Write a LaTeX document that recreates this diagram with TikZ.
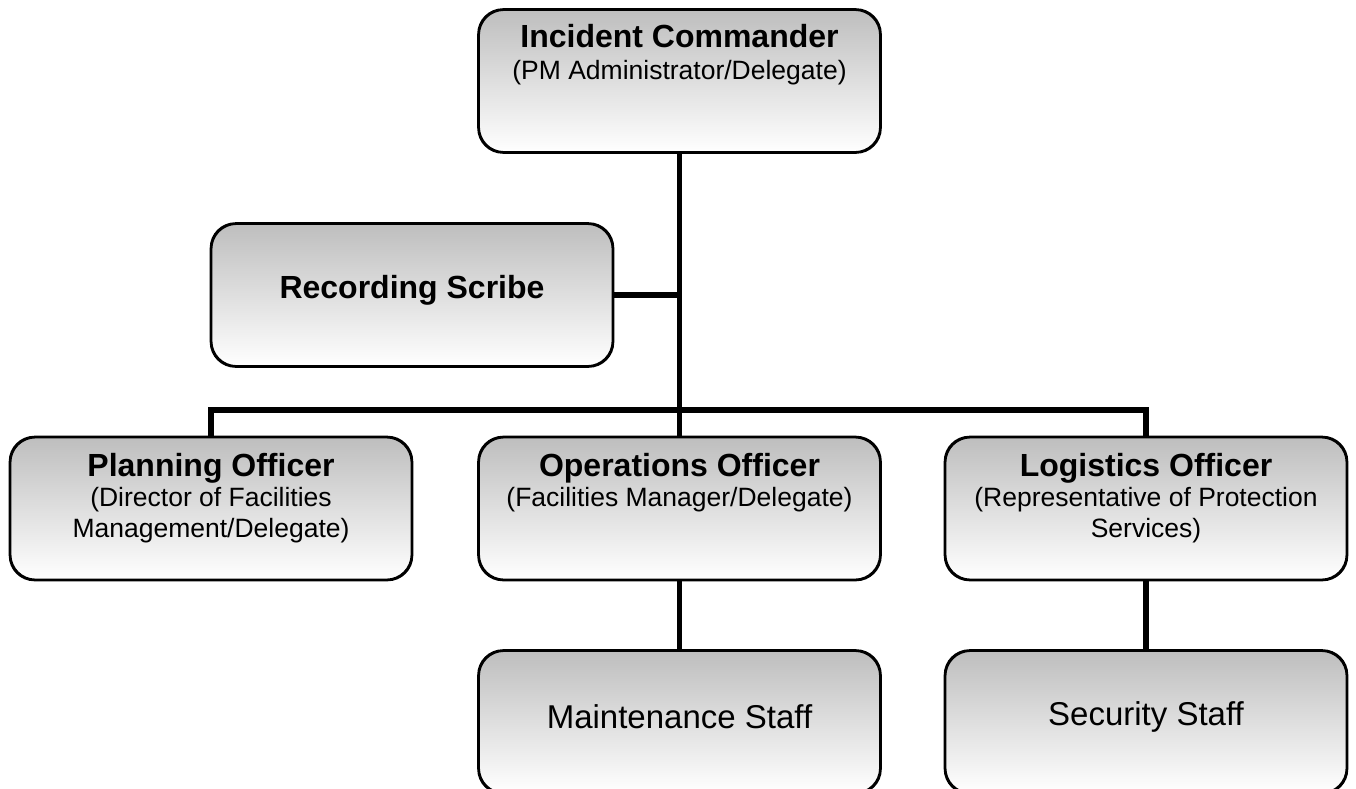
\documentclass[tikz,border=0pt]{standalone}
\usepackage{fontspec}
\setmainfont{Liberation Sans}
\definecolor{boxtop}{RGB}{190,190,190}
\begin{document}
\begin{tikzpicture}[x=1pt,y=-1pt,
  orgbox/.style={draw=black, line width=1.8pt, rounded corners=25pt,
    top color=boxtop, bottom color=white, minimum width=401pt, minimum height=142pt,
    inner sep=0pt},
  conn/.style={line width=5.5pt},
  ttl/.style={font=\fontsize{32}{32}\selectfont\bfseries, anchor=base, inner sep=0pt},
  sub/.style={font=\fontsize{26.5}{30}\selectfont, anchor=base, inner sep=0pt},
  big/.style={font=\fontsize{33}{33}\selectfont, anchor=base, inner sep=0pt}]
\useasboundingbox (0,0) rectangle (1356,788);
\coordinate (bus) at (679.5,410);
% boxes
\node[orgbox] (IC) at (679.5,81) {};
\node[orgbox] (RS) at (412,295) {};
\node[orgbox] (PO) at (211,508.5) {};
\node[orgbox] (OO) at (679.5,508.5) {};
\node[orgbox] (LO) at (1146,508.5) {};
\node[orgbox] (MS) at (679.5,722) {};
\node[orgbox] (SS) at (1146,722) {};
% connectors
\draw[conn] (IC.south) -- (OO.north);
\draw[conn] (RS.east) -- (RS.east -| IC.south);
\draw[conn] (PO.north) |- (bus) -| (LO.north);
\draw[conn] (OO.south) -- (MS.north);
\draw[conn] (LO.south) -- (SS.north);
% redraw box outlines over connector ends
\foreach \n in {IC,RS,PO,OO,LO,MS,SS}{
  \draw[line width=1.8pt, rounded corners=25pt] (\n.north west) rectangle (\n.south east);
}
% texts
\node[ttl] (ICt) at (679.5,47) {Incident Commander};
\node[sub] (ICs) at (679.5,79) {(PM Administrator/Delegate)};
\node[ttl] (RSt) at (412,298) {Recording Scribe};
\node[ttl] (POt) at (211,476) {Planning Officer};
\node[sub] (POs1) at (211,506) {(Director of Facilities};
\node[sub] (POs2) at (211,537) {Management/Delegate)};
\node[ttl] (OOt) at (679.5,476) {Operations Officer};
\node[sub] (OOs) at (679.5,506) {(Facilities Manager/Delegate)};
\node[ttl] (LOt) at (1146,476) {Logistics Officer};
\node[sub] (LOs1) at (1146,506) {(Representative of Protection};
\node[sub] (LOs2) at (1146,537) {Services)};
\node[big] (MSt) at (679.5,728) {Maintenance Staff};
\node[big] (SSt) at (1146,725) {Security Staff};
\end{tikzpicture}
\end{document}
